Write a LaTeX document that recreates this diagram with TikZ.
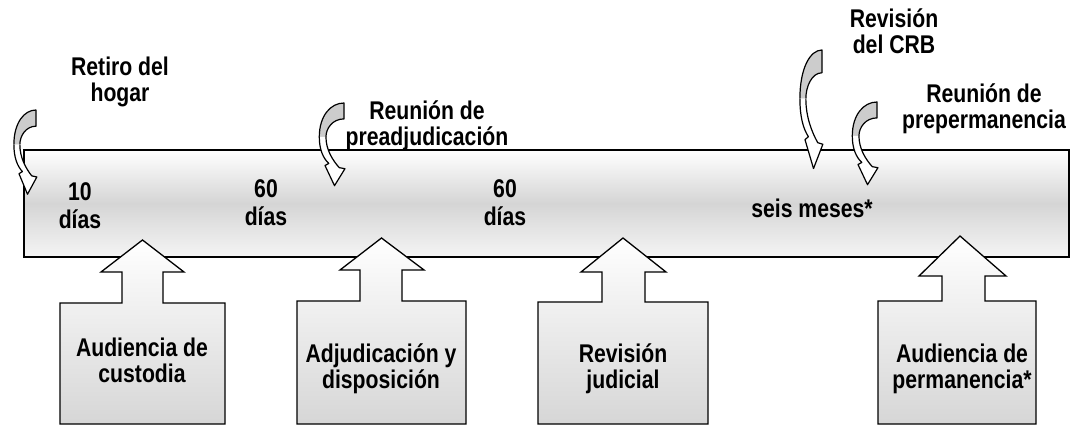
\documentclass[tikz,border=0pt]{standalone}
\usepackage{fontspec}
\usepackage{graphicx}
\setmainfont{Liberation Sans}
\newcommand\tallt[2]{\scalebox{1.01}[1.22]{\fontsize{21}{#1}\selectfont\bfseries\begin{tabular}{@{}c@{}}#2\end{tabular}}}
\begin{document}
\begin{tikzpicture}[x=1pt,y=-1pt,
  outl/.style={draw=black,line width=1.3pt,line join=miter},
  lbl/.style={inner sep=0pt},
  ribbonback/.style={fill=gray!40},
  ribbonline/.style={draw=black,line width=1.2pt,line join=round}]
\useasboundingbox (0,0) rectangle (1078,427);
\newcommand\ribbon[4]{%
 \begin{scope}[shift={(#1,#2)},yscale=#3,xscale=#4]
  \fill[ribbonback] (0,0) .. controls (-14,0) and (-26,12) .. (-26,32) -- (-19,32) .. controls (-19,24) and (-12,15) .. (0,15) -- cycle;
  \draw[ribbonline] (-26,32) .. controls (-26,12) and (-14,0) .. (0,0) -- (0,15) .. controls (-12,15) and (-19,24) .. (-19,32);
  \fill[white] (-26,32) .. controls (-26,44) and (-22,52) .. (-16,57) -- (-20,59) -- (-10,78) -- (1,62) -- (-5,61) .. controls (-12,54) and (-19,44) .. (-19,32) -- cycle;
  \draw[ribbonline] (-26,32) .. controls (-26,44) and (-22,52) .. (-16,57) -- (-20,59) -- (-10,78) -- (1,62) -- (-5,61) .. controls (-12,54) and (-19,44) .. (-19,32);
 \end{scope}}
\newcommand\upbox[9]{%
 \draw[outl,top color=white,bottom color=gray!32]
  (#1,424) -- (#1,#3) -- (#4,#3) -- (#4,#6) -- (#7,#6) -- (#9,\tipy) -- (#8,#6) -- (#5,#6) -- (#5,#3) -- (#2,#3) -- (#2,424) -- cycle;}
% timeline bar
\draw[outl,top color=white,bottom color=gray!8,middle color=gray!33] (24,150) rectangle (1069,257);
% up callouts
\def\tipy{240}
\upbox{60}{225}{303}{122}{163}{272}{101}{184}{142.5}
\def\tipy{238}
\upbox{297}{466}{301}{360}{402}{270}{340}{424}{381.5}
\upbox{538}{708}{302}{602}{645}{272}{581}{666}{623}
\def\tipy{236}
\upbox{878}{1036}{301}{942}{985}{276}{919}{1006}{960}
% curved arrows
\ribbon{36}{110}{1.08}{0.85}
\ribbon{344}{103}{1.06}{0.95}
\ribbon{822}{50}{1.52}{0.85}
\ribbon{877}{102}{1.06}{0.95}
% bar labels
\node[lbl] (d1) at (80,209) {\tallt{23}{10\\días}};
\node[lbl] (d2) at (266,206) {\tallt{23}{60\\días}};
\node[lbl] (d3) at (505,206) {\tallt{23}{60\\días}};
\node[lbl] (d4) at (812,212) {\tallt{23}{seis meses*}};
% top labels
\node[lbl] (t1) at (120,83) {\tallt{21.5}{Retiro del\\hogar}};
\node[lbl] (t2) at (427,127) {\tallt{21.5}{Reunión de\\preadjudicación}};
\node[lbl] (t3) at (894,35) {\tallt{21.5}{Revisión\\del CRB}};
\node[lbl] (t4) at (984,110) {\tallt{21.5}{Reunión de\\prepermanencia}};
% box labels
\node[lbl] (b1) at (142,364) {\tallt{21.5}{Audiencia de\\custodia}};
\node[lbl] (b2) at (381,370) {\tallt{21.5}{Adjudicación y\\disposición}};
\node[lbl] (b3) at (623,370) {\tallt{21.5}{Revisión\\judicial}};
\node[lbl] (b4) at (962,370) {\tallt{21.5}{Audiencia de\\permanencia*}};
\end{tikzpicture}
\end{document}
